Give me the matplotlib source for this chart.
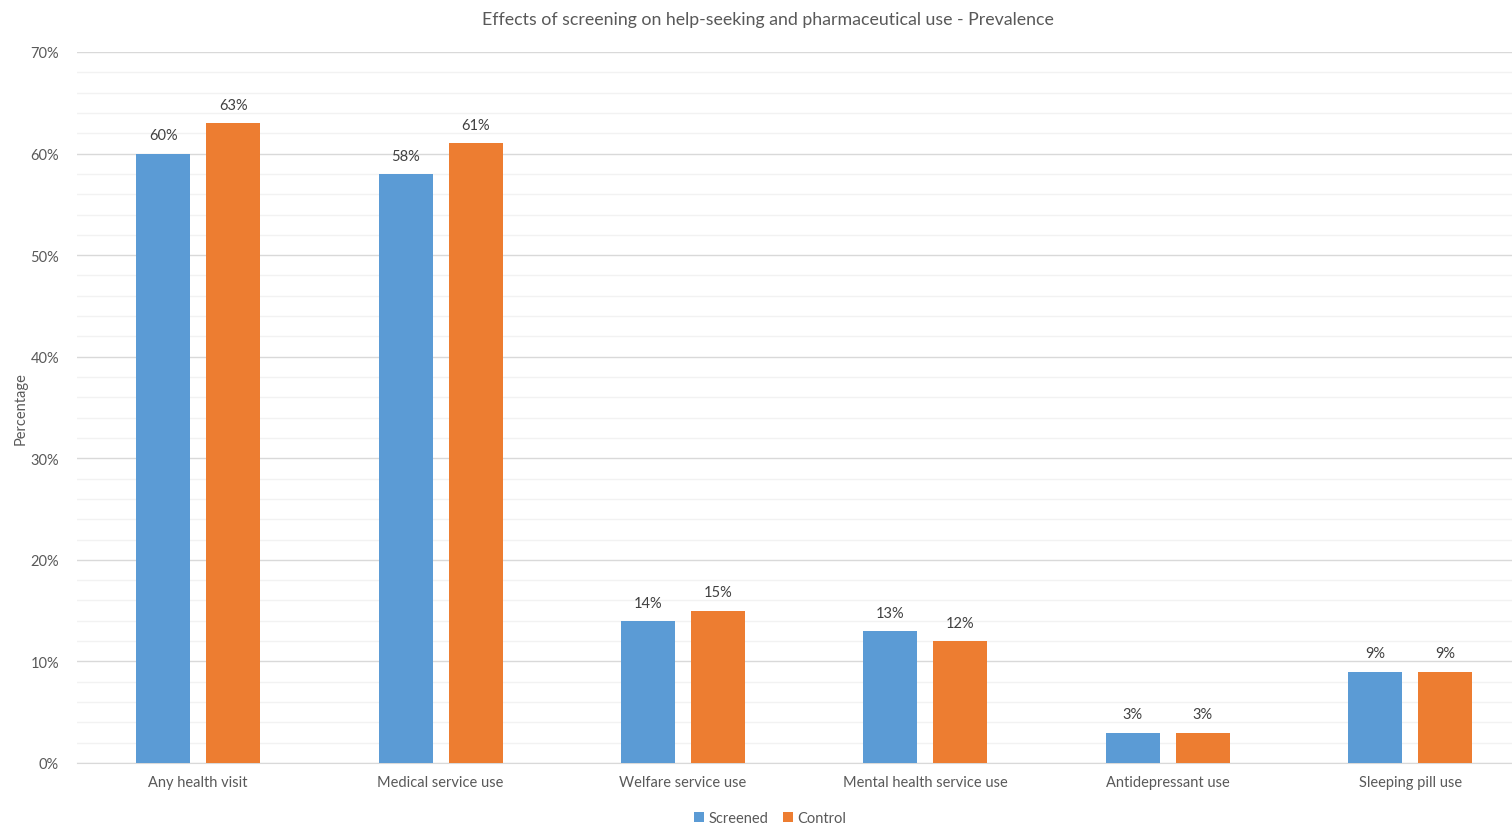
import numpy as np
import matplotlib
matplotlib.use("Agg")
import matplotlib.pyplot as plt
from matplotlib.ticker import MultipleLocator, PercentFormatter

plt.rcParams['font.family'] = ['Lato', 'DejaVu Sans']

categories = ["Any health visit", "Medical service use", "Welfare service use",
              "Mental health service use", "Antidepressant use", "Sleeping pill use"]
screened = [60, 58, 14, 13, 3, 9]
control = [63, 61, 15, 12, 3, 9]

blue = "#5B9BD5"
orange = "#ED7D31"
txt = "#595959"

fig = plt.figure(figsize=(15.12, 8.29), dpi=100)
# plot area runs slightly past the right edge of the picture
ax = fig.add_axes([77 / 1512, 65 / 829, 1.0 - 77 / 1512, 711 / 829])

x = np.arange(len(categories))
off = 0.1445
w = 0.223
b1 = ax.bar(x - off, screened, w, color=blue, label="Screened", zorder=3)
b2 = ax.bar(x + off, control, w, color=orange, label="Control", zorder=3)

for bars, vals in ((b1, screened), (b2, control)):
    for r, v in zip(bars, vals):
        ax.text(r.get_x() + r.get_width() / 2, v + 1.1, f"{v}%", ha="center",
                va="bottom", fontsize=10.5, color="#404040")

ax.set_xlim(-0.5, 5.42)
ax.set_ylim(0, 70)
ax.yaxis.set_major_locator(MultipleLocator(10))
ax.yaxis.set_minor_locator(MultipleLocator(2))
ax.yaxis.set_major_formatter(PercentFormatter(decimals=0))
ax.grid(axis="y", which="major", color="#D9D9D9", lw=1, zorder=0)
ax.grid(axis="y", which="minor", color="#F2F2F2", lw=1, zorder=0)

for s in ("top", "right", "left"):
    ax.spines[s].set_visible(False)
ax.spines["bottom"].set_color("#D9D9D9")
ax.tick_params(axis="both", which="both", length=0, colors=txt, labelsize=10.5)
ax.tick_params(axis="y", pad=13)
ax.tick_params(axis="x", pad=9)
ax.set_xticks(x)
ax.set_xticklabels(categories)

ax.set_ylabel("Percentage", fontsize=10.5, color=txt)
ax.yaxis.set_label_coords(-(77 - 28) / (1512 - 77), 0.5)
fig.text(768 / 1512, 1 - 20 / 829, "Effects of screening on help-seeking and pharmaceutical use - Prevalence",
         ha="center", va="center", fontsize=12.8, color=txt)

fig.legend(handles=[b1, b2], loc="center", bbox_to_anchor=(770 / 1512, 1 - 819 / 829),
           ncol=2, frameon=False, fontsize=10.5, labelcolor=txt, handlelength=0.7,
           handleheight=0.7, handletextpad=0.3, columnspacing=1.0)

fig.savefig("out.png", dpi=100)
